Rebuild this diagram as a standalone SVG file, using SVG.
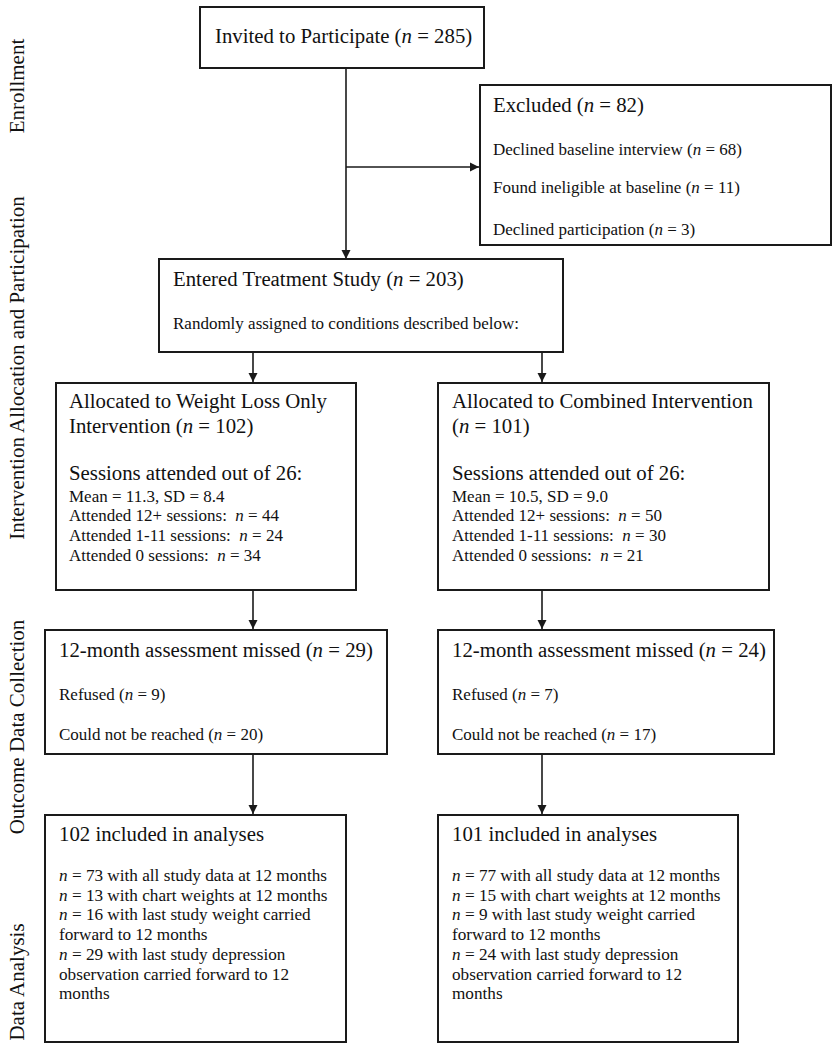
<svg xmlns="http://www.w3.org/2000/svg" width="839" height="1050" viewBox="0 0 839 1050">
<defs>
<style>
.box{fill:#fff;stroke:#1a1a1a;stroke-width:2}
.ln{fill:none;stroke:#1a1a1a;stroke-width:1.6}
text{font-family:"Liberation Serif","Times New Roman",serif;fill:#111;white-space:pre}
.h{font-size:20.8px}
.s{font-size:17px}
.m{font-size:17.2px}
.side{font-size:21px;text-anchor:middle}
.i{font-style:italic}
</style>
<marker id="ah" viewBox="0 0 10 10" refX="10" refY="5" markerWidth="9" markerHeight="10" markerUnits="userSpaceOnUse" orient="auto">
<path d="M0,0 L10,5 L0,10 z" fill="#1a1a1a"/>
</marker>
</defs>
<rect width="839" height="1050" fill="#fff"/>

<g id="side-labels">
<text class="side" transform="translate(24,86) rotate(-90)">Enrollment</text>
<text class="side" transform="translate(24,368) rotate(-90)">Intervention Allocation and Participation</text>
<text class="side" transform="translate(24,727) rotate(-90)">Outcome Data Collection</text>
<text class="side" transform="translate(24,982) rotate(-90)">Data Analysis</text>
</g>

<g id="connectors">
<line class="ln" x1="346" y1="68" x2="346" y2="259" marker-end="url(#ah)"/>
<line class="ln" x1="346" y1="167" x2="479" y2="167" marker-end="url(#ah)"/>
<line class="ln" x1="253" y1="352" x2="253" y2="382" marker-end="url(#ah)"/>
<line class="ln" x1="542" y1="352" x2="542" y2="382" marker-end="url(#ah)"/>
<line class="ln" x1="253" y1="590" x2="253" y2="629" marker-end="url(#ah)"/>
<line class="ln" x1="542" y1="590" x2="542" y2="629" marker-end="url(#ah)"/>
<line class="ln" x1="253" y1="754" x2="253" y2="814" marker-end="url(#ah)"/>
<line class="ln" x1="542" y1="754" x2="542" y2="814" marker-end="url(#ah)"/>
</g>

<g id="invited">
<rect class="box" x="200" y="7" width="284" height="61"/>
<text class="h" x="215" y="43">Invited to Participate (<tspan class="i">n</tspan> = 285)</text>
</g>

<g id="excluded">
<rect class="box" x="480" y="85" width="351" height="160"/>
<text class="h" x="493" y="112">Excluded (<tspan class="i">n</tspan> = 82)</text>
<text class="s" x="493" y="155">Declined baseline interview (<tspan class="i">n</tspan> = 68)</text>
<text class="s" x="493" y="193">Found ineligible at baseline (<tspan class="i">n</tspan> = 11)</text>
<text class="s" x="493" y="235">Declined participation (<tspan class="i">n</tspan> = 3)</text>
</g>

<g id="entered">
<rect class="box" x="159" y="259" width="404" height="93"/>
<text class="h" x="173" y="286">Entered Treatment Study (<tspan class="i">n</tspan> = 203)</text>
<text class="s" x="173" y="329">Randomly assigned to conditions described below:</text>
</g>

<g id="alloc-wl">
<rect class="box" x="56" y="383" width="300" height="207"/>
<text class="h" x="69" y="408">Allocated to Weight Loss Only</text>
<text class="h" x="69" y="433">Intervention (<tspan class="i">n</tspan> = 102)</text>
<text class="h" x="69" y="480">Sessions attended out of 26:</text>
<text class="s" x="69" y="502">Mean = 11.3, SD = 8.4</text>
<text class="s" x="69" y="521">Attended 12+ sessions:  <tspan class="i">n</tspan> = 44</text>
<text class="s" x="69" y="541">Attended 1-11 sessions:  <tspan class="i">n</tspan> = 24</text>
<text class="s" x="69" y="561">Attended 0 sessions:  <tspan class="i">n</tspan> = 34</text>
</g>

<g id="alloc-ci">
<rect class="box" x="438" y="383" width="331" height="207"/>
<text class="h" x="452" y="408">Allocated to Combined Intervention</text>
<text class="h" x="452" y="433">(<tspan class="i">n</tspan> = 101)</text>
<text class="h" x="452" y="480">Sessions attended out of 26:</text>
<text class="s" x="452" y="502">Mean = 10.5, SD = 9.0</text>
<text class="s" x="452" y="521">Attended 12+ sessions:  <tspan class="i">n</tspan> = 50</text>
<text class="s" x="452" y="541">Attended 1-11 sessions:  <tspan class="i">n</tspan> = 30</text>
<text class="s" x="452" y="561">Attended 0 sessions:  <tspan class="i">n</tspan> = 21</text>
</g>

<g id="missed-wl">
<rect class="box" x="45" y="630" width="342" height="124"/>
<text class="h" x="59" y="657">12-month assessment missed (<tspan class="i">n</tspan> = 29)</text>
<text class="s" x="59" y="700">Refused (<tspan class="i">n</tspan> = 9)</text>
<text class="s" x="59" y="740">Could not be reached (<tspan class="i">n</tspan> = 20)</text>
</g>

<g id="missed-ci">
<rect class="box" x="438" y="630" width="336" height="124"/>
<text class="h" x="452" y="657">12-month assessment missed (<tspan class="i">n</tspan> = 24)</text>
<text class="s" x="452" y="700">Refused (<tspan class="i">n</tspan> = 7)</text>
<text class="s" x="452" y="740">Could not be reached (<tspan class="i">n</tspan> = 17)</text>
</g>

<g id="analysis-wl">
<rect class="box" x="45" y="815" width="301" height="227"/>
<text class="h" x="59" y="841">102 included in analyses</text>
<text class="m" x="59" y="881"><tspan class="i">n</tspan> = 73 with all study data at 12 months</text>
<text class="m" x="59" y="901"><tspan class="i">n</tspan> = 13 with chart weights at 12 months</text>
<text class="m" x="59" y="920"><tspan class="i">n</tspan> = 16 with last study weight carried</text>
<text class="m" x="59" y="940">forward to 12 months</text>
<text class="m" x="59" y="960"><tspan class="i">n</tspan> = 29 with last study depression</text>
<text class="m" x="59" y="980">observation carried forward to 12</text>
<text class="m" x="59" y="999">months</text>
</g>

<g id="analysis-ci">
<rect class="box" x="438" y="815" width="300" height="227"/>
<text class="h" x="452" y="841">101 included in analyses</text>
<text class="m" x="452" y="881"><tspan class="i">n</tspan> = 77 with all study data at 12 months</text>
<text class="m" x="452" y="901"><tspan class="i">n</tspan> = 15 with chart weights at 12 months</text>
<text class="m" x="452" y="920"><tspan class="i">n</tspan> = 9 with last study weight carried</text>
<text class="m" x="452" y="940">forward to 12 months</text>
<text class="m" x="452" y="960"><tspan class="i">n</tspan> = 24 with last study depression</text>
<text class="m" x="452" y="980">observation carried forward to 12</text>
<text class="m" x="452" y="999">months</text>
</g>
</svg>
